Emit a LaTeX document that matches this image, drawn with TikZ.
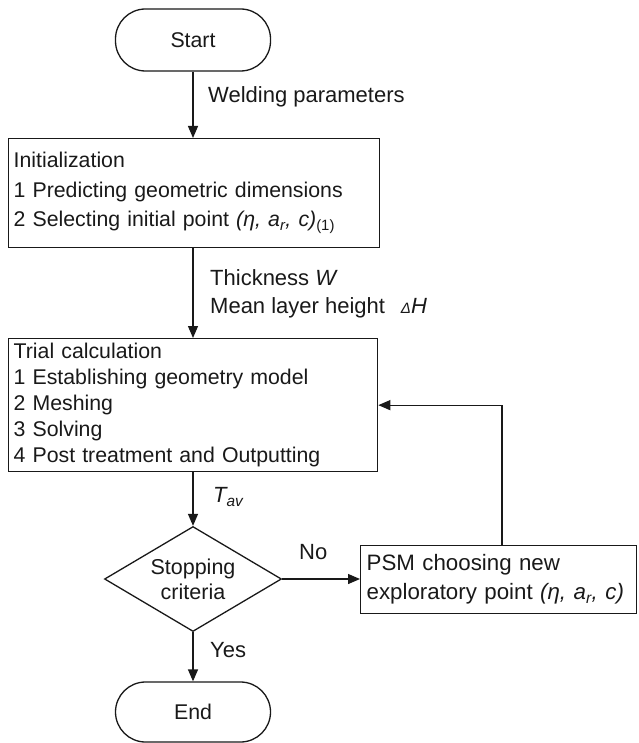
\documentclass[tikz,border=0pt]{standalone}
\usepackage{fontspec}
\setmainfont{Liberation Sans}
\usetikzlibrary{shapes.geometric,arrows.meta}
\begin{document}
\begin{tikzpicture}[x=1pt,y=-1pt,
  every node/.style={font=\fontsize{21.3}{29.5}\selectfont, text=black!90},
  line/.style={line width=1.3pt, draw=black!90},
  arr/.style={line, -{Triangle[length=12pt,width=10pt]}},
  pill/.style={draw=black!90,line width=1.3pt,rounded corners=30pt,minimum width=155pt,minimum height=62pt,inner sep=0pt},
  procbox/.style={draw=black!90,line width=1.3pt,inner xsep=5pt,inner ysep=0pt,align=left,anchor=north west},
  lbl/.style={anchor=west,inner sep=0pt,font=\fontsize{22}{26}\selectfont},
]
\useasboundingbox (0,0) rectangle (638,743);

\node[pill] (start) at (193,40) {Start};
\node[procbox, text width=361pt, minimum height=109pt, font=\fontsize{21.3}{29.5}\selectfont] (init) at (8,138)
  {Initialization\\1 Predicting geometric dimensions\\2 Selecting initial point \textit{(η, a\textsubscript{r}, c)}\textsubscript{(1)}};
\node[procbox, text width=359pt, minimum height=133pt, font=\fontsize{21.3}{26}\selectfont] (trial) at (8,338)
  {Trial calculation\\1 Establishing geometry model\\2 Meshing\\3 Solving\\4 Post treatment and Outputting};
\node[draw=black!90, diamond, line width=1.3pt, minimum width=177pt, minimum height=105pt, inner sep=0pt,
  aspect=1.686, align=center, font=\fontsize{21.5}{25}\selectfont] (crit) at (193,579) {Stopping\\criteria};
\node[procbox, text width=264pt, minimum height=68pt, inner xsep=6pt, font=\fontsize{22.3}{29}\selectfont] (psm) at (360,545)
  {PSM choosing new\\exploratory point \textit{(η, a\textsubscript{r}, c)}};
\node[pill, minimum height=60pt] (end) at (193,712) {End};

\coordinate (up) at (502,545);

\draw[arr] (start.south) -- (start.south |- init.north);
\draw[arr] (start.south |- init.south) -- (start.south |- trial.north);
\draw[arr] (start.south |- trial.south) -- (crit.north);
\draw[arr] (crit.east) -- (crit.east -| psm.west);
\draw[arr] (crit.south) -- (end.north);
\draw[arr] (up) |- (trial.east);

\node[lbl] (wp) at (208,97) {Welding parameters};
\node[lbl] (th) at (210,278) {Thickness \textit{W}};
\node[lbl] (mh) at (210,308) {Mean layer height \;\,{\fontsize{15}{15}\selectfont\textit{Δ}}\textit{H}};
\node[lbl] (tav) at (213,497) {\textit{T\textsubscript{av}}};
\node[lbl] (no) at (299,552) {No};
\node[lbl] (yes) at (210,650) {Yes};
\end{tikzpicture}
\end{document}
